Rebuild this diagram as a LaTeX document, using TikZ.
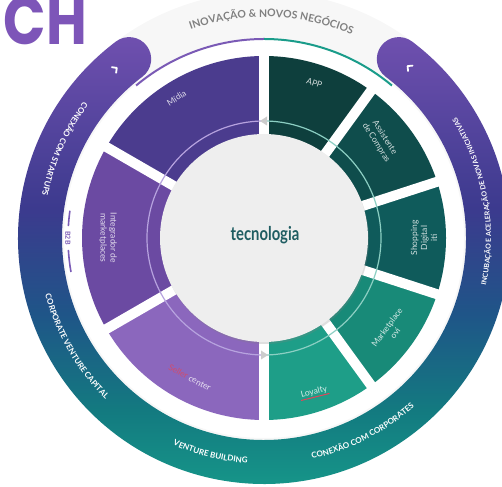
\documentclass[tikz,border=0pt]{standalone}
\usepackage{fontspec}
\setmainfont{Lato}
\newfontfamily\titlefont{Poppins}
\usetikzlibrary{decorations.text,shadows}

% Colours of the wheel
\definecolor{midiaviolet}{HTML}{4B3C8E}
\definecolor{integviolet}{HTML}{6B4AA2}
\definecolor{sellerviolet}{HTML}{8B67BD}
\definecolor{appteal}{HTML}{0E3F3D}
\definecolor{assistteal}{HTML}{0F4D4C}
\definecolor{shopteal}{HTML}{0F5B5B}
\definecolor{mktteal}{HTML}{188A78}
\definecolor{loyalteal}{HTML}{1E9E88}
\definecolor{bandteal}{HTML}{17A08C}
\definecolor{bandsea}{HTML}{137A80}
\definecolor{bandblue}{HTML}{1F5588}
\definecolor{bandindigo}{HTML}{3C3A8E}
\definecolor{bandpurple}{HTML}{7050AF}
\definecolor{linepurple}{HTML}{7A5AB5}
\definecolor{lineteal}{HTML}{1A9C8A}
\definecolor{ringpurple}{HTML}{B7A3DF}
\definecolor{ringteal}{HTML}{8CCFC3}
\definecolor{diskgray}{HTML}{EEEEEE}
\definecolor{techteal}{HTML}{1F5D62}
\definecolor{chpurple}{HTML}{7D55B8}
\definecolor{sellerred}{HTML}{E0465A}

\pgfdeclareverticalshading{bandshade}{100bp}{color(0bp)=(bandteal); color(25bp)=(bandteal); color(36bp)=(bandsea); color(46bp)=(bandblue); color(57bp)=(bandindigo); color(75bp)=(bandpurple); color(100bp)=(bandpurple)}

\newcommand\bandfont{\fontsize{8}{9}\selectfont\bfseries}
\newcommand\smallbandfont{\fontsize{7}{8}\selectfont\bfseries}

\tikzset{
  seglabel/.style={text=white, text opacity=0.82, font=\fontsize{8.5}{10}\selectfont, align=center, inner sep=1pt},
  bandtext/.style={decorate, decoration={text along path, text color=white, text align=center, text={|\bandfont|#1}}},
  chevron/.pic={\draw[white, line width=1.8pt, line cap=round, line join=round] (-3,3.5) -- (0.5,0) -- (-3,-3.5);}
}

\begin{document}
\begin{tikzpicture}[x=1pt,y=1pt]
\useasboundingbox (0,0) rectangle (502,486);

% Title letters, cut by the page
\node[font=\titlefont\fontsize{68}{68}\selectfont\bfseries, text=chpurple, anchor=base east, xscale=0.82, inner sep=0] (title) at (87,441) {CH};

\begin{scope}[shift={(264,248)}]

% Outer light ring and coloured band
\fill[gray!6, even odd rule] (0,0) circle (246) (0,0) circle (200);
\shade[shading=bandshade] (127:246) arc[start angle=127, end angle=413, radius=246]
  arc[start angle=53, end angle=233, radius=22]
  arc[start angle=413, end angle=127, radius=202]
  arc[start angle=307, end angle=487, radius=22] -- cycle;

% Thin arcs at the top
\draw[linepurple, line width=2pt] (130:199) arc[start angle=130, end angle=90, radius=199];
\draw[lineteal, line width=2pt] (90:199) arc[start angle=90, end angle=50, radius=199];

% B2B mark
\draw[linepurple, line width=1.6pt] (172:196) arc[start angle=172, end angle=176.5, radius=196];
\draw[linepurple, line width=1.6pt] (183.5:196) arc[start angle=183.5, end angle=190, radius=196];
\node[rotate=-90, text=linepurple, font=\fontsize{7}{8}\selectfont\bfseries, inner sep=0] (btob) at (180:196) {B2B};

% Segments
\foreach \a/\b/\c in {90/150/midiaviolet, 150/210/integviolet, 210/270/sellerviolet,
                      54/90/appteal, 18/54/assistteal, -18/18/shopteal, -54/-18/mktteal, -90/-54/loyalteal}
  \fill[\c] (\a:100) arc[start angle=\a, end angle=\b, radius=100] -- (\b:182)
    arc[start angle=\b, end angle=\a, radius=182] -- cycle;

% Gaps between segments
\foreach \a in {90,150,210,270,54,18,-18,-54}
  \draw[white, line width=10pt] (0,0) -- (\a:190);

% Inner ring with arrows
\draw[ringpurple, line width=1.2pt] (90:117) arc[start angle=90, end angle=270, radius=117];
\draw[ringteal, line width=1.2pt] (-90:117) arc[start angle=-90, end angle=90, radius=117];
\fill[gray!40] (-4,117) -- (3,121.5) -- (3,112.5) -- cycle;
\fill[gray!40] (4,-117) -- (-3,-112.5) -- (-3,-121.5) -- cycle;

% Centre disk
\path[fill=diskgray, drop shadow={opacity=0.25, shadow xshift=1pt, shadow yshift=-2pt}] (0,0) circle (104);
\node[font=\fontsize{19}{20}\selectfont\bfseries, text=techteal, xscale=0.78] (tech) at (1,3) {tecnologia};

% Segment labels
\node[seglabel, rotate=32] (midia) at (122:165) {Mídia};
\node[seglabel, rotate=-18] (app) at (72:163) {APP};
\node[seglabel, rotate=-58] (assist) at (40:152) {Assistente\\de Compras};
\node[seglabel, rotate=90] (shop) at (0:160) {Shopping\\Digital\\iti};
\node[seglabel, rotate=54] (mkt) at (-36:157) {Marketplace\\ovi};
\node[seglabel, rotate=14] (loyal) at (-72:162) {Loyalty};
\draw[sellerred, line width=1pt] (loyal.south west) -- (loyal.south east);
\node[seglabel, rotate=-28] (seller) at (242:158) {\textcolor{sellerred}{Seller} center};
\node[seglabel, rotate=-90] (integ) at (180:156) {Integrador de\\marketplaces};

% Chevrons at the band ends
\pic[rotate=37] at (131:225) {chevron};
\pic[rotate=140] at (50:224) {chevron};

% Band texts
\path[bandtext={CONEXÃO COM STARTUPS}] (131:226) arc[start angle=131, end angle=181, radius=226];
\path[bandtext={CORPORATE VENTURE CAPITAL}] (185:226) arc[start angle=185, end angle=235, radius=226];
\path[bandtext={VENTURE BUILDING}] (231:226) arc[start angle=231, end angle=281, radius=226];
\path[bandtext={CONEXÃO COM CORPORATES}] (272:226) arc[start angle=272, end angle=322, radius=226];
\path[decorate, decoration={text along path, text color=white, text align=center,
  text={|\smallbandfont|INCUBAÇÃO E ACELERAÇÃO DE NOVAS INICIATIVAS}}]
  (-22:227) arc[start angle=-22, end angle=42, radius=227];
\path[decorate, decoration={text along path, text color=gray, text align=center,
  text={|\fontsize{10.5}{11}\selectfont\bfseries|INOVAÇÃO {\&} NOVOS NEGÓCIOS}}]
  (118:221) arc[start angle=118, end angle=58, radius=221];

\end{scope}
\end{tikzpicture}
\end{document}
